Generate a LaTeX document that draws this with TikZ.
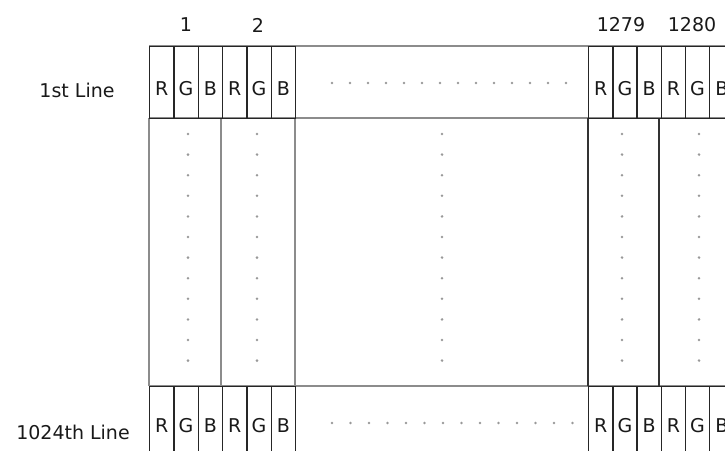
\documentclass[tikz,border=0pt]{standalone}
\usepackage{fontspec}
\setmainfont{DejaVu Sans}
\begin{document}
\begin{tikzpicture}[x=1pt,y=-1pt,
  cell/.style={draw=black!85, line width=1.2pt, minimum width=24.33pt, minimum height=72pt, inner sep=0pt, anchor=north west},
  lbl/.style={font=\fontsize{19}{22}\selectfont, text=black!90, inner sep=0pt},
  grid/.style={draw=black!45, line width=1.4pt},
  dark/.style={draw=black!80, line width=1.2pt},
  dot/.style={circle, fill=black!40, inner sep=0pt, minimum size=2.8pt}]
\useasboundingbox (0,0) rectangle (725,450);
\clip (0,0) rectangle (725,450);
% long grey lines
\draw[grid] (149,46) -- (745,46);
\draw[grid] (149,118) -- (745,118);
\draw[grid] (149,386) -- (745,386);
\draw[grid] (149,118) -- (149,386);
\draw[grid] (221,118) -- (221,386);
\draw[grid] (295,118) -- (295,386);
\draw[dark] (588,118) -- (588,386);
\draw[dark] (659,118) -- (659,386);
\draw[dark] (733,118) -- (733,386);
% cells
\foreach \i/\t in {0/R,1/G,2/B,3/R,4/G,5/B}{
  \node[cell, label={[lbl,yshift=-6pt]center:\t}] (tl\i) at ({149+24.33*\i},46) {};
  \node[cell, label={[lbl,yshift=-6pt]center:\t}] (tr\i) at ({588+24.2*\i},46) {};
  \node[cell, label={[lbl,yshift=-3pt]center:\t}] (bl\i) at ({149+24.33*\i},386) {};
  \node[cell, label={[lbl,yshift=-3pt]center:\t}] (br\i) at ({588+24.2*\i},386) {};
}
% column numbers
\node[lbl] (n1) at (186,25) {1};
\node[lbl] (n2) at (258,25) {2};
\node[lbl] (n1279) at (621,25) {1279};
\node[lbl] (n1280) at (692,25) {1280};
% line labels
\node[lbl] (l1) at (77,90) {1st Line};
\node[lbl] (l1024) at (73,432) {1024th Line};
% vertical dots
\foreach \x in {188,257,442,622,699}{
  \foreach \k in {0,...,11}{
    \node[dot] (v\x-\k) at (\x,{134+20.6*\k}) {};
  }
}
% horizontal dots
\foreach \k in {0,...,13}{
  \node[dot] (ht\k) at ({332+18*\k},83) {};
  \node[dot] (hb\k) at ({332+18.5*\k},423) {};
}
\end{tikzpicture}
\end{document}
